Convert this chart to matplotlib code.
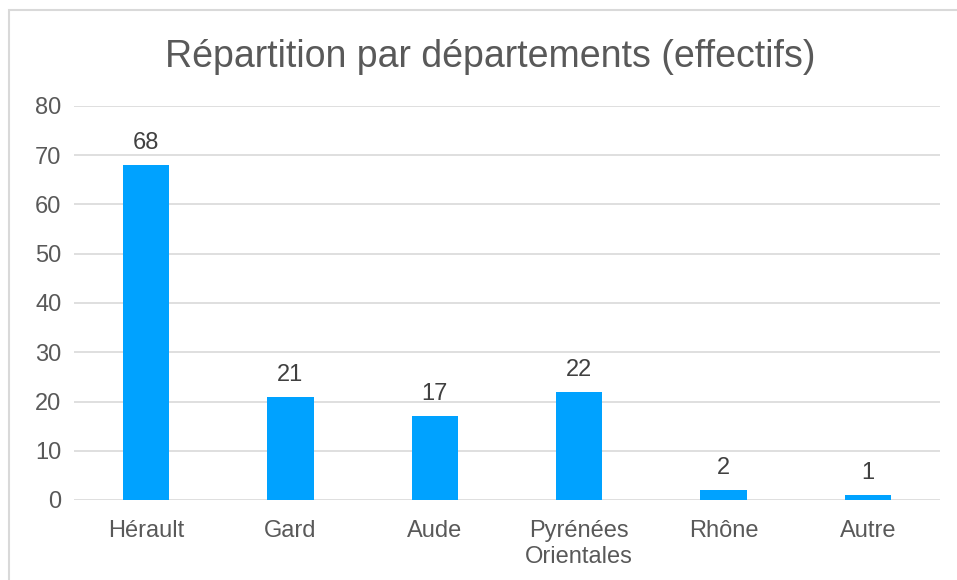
import matplotlib
matplotlib.use("Agg")
import matplotlib.pyplot as plt
from matplotlib.patches import Rectangle

categories = ["Hérault", "Gard", "Aude", "Pyrénées\nOrientales", "Rhône", "Autre"]
values = [68, 21, 17, 22, 2, 1]
yticks = [0, 10, 20, 30, 40, 50, 60, 70, 80]
title = "Répartition par départements (effectifs)"

plt.rcParams['font.family'] = ['Liberation Sans', 'DejaVu Sans']
W, H = 957, 580
fig = plt.figure(figsize=(W/100, H/100), dpi=100)
fig.patches.append(Rectangle((9/W, -0.1), 1.2, 1.1 - 10/H, transform=fig.transFigure,
                             fill=False, edgecolor="#D9D9D9", linewidth=1.5))
ax = fig.add_axes([74/W, 1 - 500/H, (940-74)/W, (500-106)/H])
x = list(range(len(categories)))
ax.bar(x, values, width=0.32, color="#00A2FF", zorder=3)
for xi, v in zip(x, values):
    ax.text(xi, v + 2.2, str(v), ha="center", va="bottom", fontsize=17, color="#404040")
ax.set_xlim(-0.5, len(categories) - 0.5)
ax.set_ylim(0, 80)
ax.set_yticks(yticks)
ax.set_xticks(x)
ax.set_xticklabels(categories)
ax.tick_params(axis="both", length=0, labelsize=17, labelcolor="#595959")
ax.tick_params(axis="y", pad=9)
ax.tick_params(axis="x", pad=14.5)
ax.grid(axis="y", color="#D9D9D9", linewidth=1.2, zorder=0)
for s in ax.spines.values():
    s.set_visible(False)
fig.text(490/W, 1 - 57/H, title, ha="center", va="center", fontsize=27, color="#595959")
fig.savefig("out.png", dpi=100)
